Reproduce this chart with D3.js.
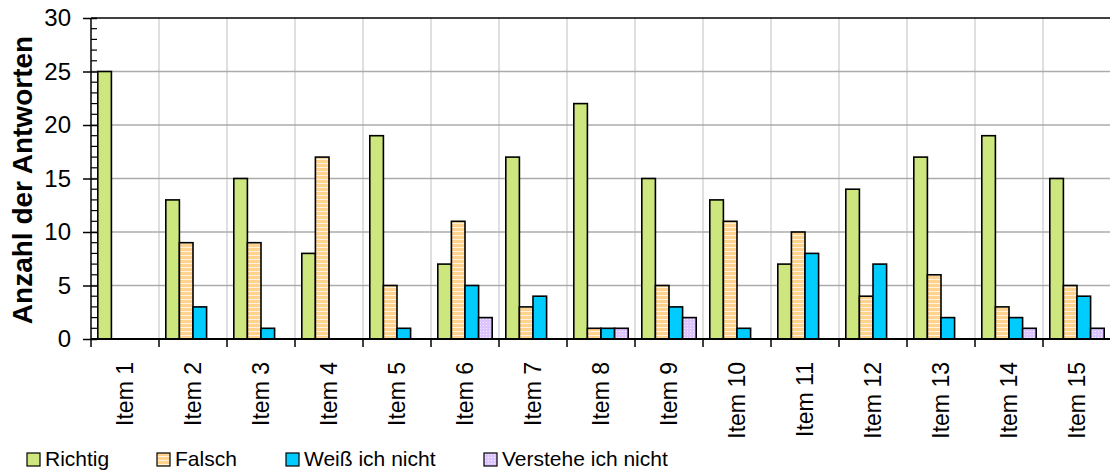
<!DOCTYPE html>
<html>
<head>
<meta charset="utf-8">
<script src="https://cdn.jsdelivr.net/npm/d3@7"></script>
<style>
  html, body { margin: 0; padding: 0; background: #fff; }
  svg { display: block; font-family: "Liberation Sans", Arial, sans-serif; }
</style>
</head>
<body>
<svg id="chart" width="1110" height="471"></svg>
<script>
// Survey answers per item
const items = ["Item 1","Item 2","Item 3","Item 4","Item 5","Item 6","Item 7","Item 8",
               "Item 9","Item 10","Item 11","Item 12","Item 13","Item 14","Item 15"];
const seriesNames = ["Richtig", "Falsch", "Weiß ich nicht", "Verstehe ich nicht"];
const richtig   = [25, 13, 15,  8, 19,  7, 17, 22, 15, 13,  7, 14, 17, 19, 15];
const falsch    = [ 0,  9,  9, 17,  5, 11,  3,  1,  5, 11, 10,  4,  6,  3,  5];
const weiss     = [ 0,  3,  1,  0,  1,  5,  4,  1,  3,  1,  8,  7,  2,  2,  4];
const verstehe  = [ 0,  0,  0,  0,  0,  2,  0,  1,  2,  0,  0,  0,  0,  1,  1];
const yTicks = [0, 5, 10, 15, 20, 25, 30];
const legendX = [27, 157, 286, 484];

const values = [richtig, falsch, weiss, verstehe];
const fills = ["#cde67e", "url(#patFalsch)", "#00ccff", "url(#patVerstehe)"];

const svg = d3.select("#chart");
const plotLeft = 91, plotTop = 18, plotBottom = 339;
const plotW = 68 * items.length;

// fill patterns
const defs = svg.append("defs");
const pf = defs.append("pattern").attr("id", "patFalsch")
  .attr("patternUnits", "userSpaceOnUse").attr("width", 4).attr("height", 4);
pf.append("rect").attr("width", 4).attr("height", 4).attr("fill", "#ffd38e");
pf.append("rect").attr("y", 3).attr("width", 4).attr("height", 1).attr("fill", "#fff3e0");
const pv = defs.append("pattern").attr("id", "patVerstehe")
  .attr("patternUnits", "userSpaceOnUse").attr("width", 3).attr("height", 3);
pv.append("rect").attr("width", 3).attr("height", 3).attr("fill", "#dcc4ff");
pv.append("rect").attr("x", 1).attr("y", 1).attr("width", 1).attr("height", 1).attr("fill", "#f4ecff");

const x0 = d3.scaleBand().domain(items).range([plotLeft, plotLeft + plotW]).paddingInner(0).paddingOuter(0);
const x1 = d3.scaleBand().domain(seriesNames).range([0, x0.bandwidth()]).paddingInner(0).paddingOuter(0.5);
const y = d3.scaleLinear().domain([0, 30]).range([plotBottom, plotTop]);

// vertical grid at category boundaries
const bounds = items.map(d => x0(d)).concat([plotLeft + plotW]);
svg.append("g").selectAll("line").data(bounds.slice(1)).join("line")
  .attr("x1", d => d).attr("x2", d => d).attr("y1", plotTop).attr("y2", plotBottom)
  .attr("stroke", "#d4d4d4").attr("stroke-width", 1.5);

// horizontal grid
svg.append("g").selectAll("line").data(yTicks.filter(t => t > 0 && t < 30)).join("line")
  .attr("x1", plotLeft).attr("x2", plotLeft + plotW).attr("y1", d => y(d)).attr("y2", d => y(d))
  .attr("stroke", "#ababab").attr("stroke-width", 1.5);

// top border
svg.append("line").attr("x1", plotLeft).attr("x2", plotLeft + plotW).attr("y1", y(30)).attr("y2", y(30))
  .attr("stroke", "#000").attr("stroke-width", 1.5);

// bars
const groups = svg.append("g").selectAll("g").data(items).join("g")
  .attr("transform", d => `translate(${x0(d)},0)`);
groups.selectAll("rect")
  .data((d, i) => seriesNames.map((s, k) => ({ s, k, v: values[k][i] })).filter(e => e.v > 0))
  .join("rect")
  .attr("x", e => x1(e.s)).attr("width", x1.bandwidth())
  .attr("y", e => y(e.v)).attr("height", e => y(0) - y(e.v))
  .attr("fill", e => fills[e.k]).attr("stroke", "#000").attr("stroke-width", 1.6);

// y axis
const yAxis = svg.append("g").attr("transform", `translate(${plotLeft},0)`)
  .call(d3.axisLeft(y).tickValues(yTicks).tickSize(8).tickPadding(12));
yAxis.select(".domain").remove();
yAxis.append("line").attr("x1", 0).attr("x2", 0).attr("y1", plotTop).attr("y2", plotBottom)
  .attr("stroke", "#000").attr("stroke-width", 1.5);
yAxis.selectAll(".tick line").attr("stroke", "#000").attr("stroke-width", 1.5)
  .attr("x1", 6);
yAxis.selectAll(".tick text").attr("font-size", 24).attr("fill", "#000");
// minor ticks every unit, pointing inward
svg.append("g").selectAll("line").data(d3.range(0, 31).filter(v => v % 5 !== 0)).join("line")
  .attr("x1", plotLeft).attr("x2", plotLeft + 6).attr("y1", d => y(d)).attr("y2", d => y(d))
  .attr("stroke", "#000").attr("stroke-width", 1.2);

// x axis line and boundary ticks
svg.append("line").attr("x1", plotLeft).attr("x2", plotLeft + plotW).attr("y1", plotBottom).attr("y2", plotBottom)
  .attr("stroke", "#000").attr("stroke-width", 2);
svg.append("g").selectAll("line").data(bounds).join("line")
  .attr("x1", d => d).attr("x2", d => d).attr("y1", plotBottom).attr("y2", plotBottom + 8)
  .attr("stroke", "#000").attr("stroke-width", 1.5);

// category labels (rotated)
svg.append("g").selectAll("text").data(items).join("text")
  .attr("transform", d => `translate(${x0(d) + x0.bandwidth() / 2},362) rotate(-90)`)
  .attr("text-anchor", "end").attr("dy", "0.36em")
  .attr("font-size", 23).attr("fill", "#000").text(d => d);

// y axis title
svg.append("text").attr("transform", "translate(22,180) rotate(-90)")
  .attr("text-anchor", "middle").attr("dy", "0.36em")
  .attr("font-size", 28).attr("font-weight", "bold").text("Anzahl der Antworten");

// legend
const lg = svg.append("g").selectAll("g").data(seriesNames).join("g")
  .attr("transform", (d, i) => `translate(${legendX[i]},453)`);
lg.append("rect").attr("width", 13).attr("height", 13)
  .attr("fill", (d, i) => fills[i]).attr("stroke", "#000").attr("stroke-width", 1.2);
lg.append("text").attr("x", 18).attr("y", 13).attr("font-size", 21).attr("fill", "#000").text(d => d);
</script>
</body>
</html>
